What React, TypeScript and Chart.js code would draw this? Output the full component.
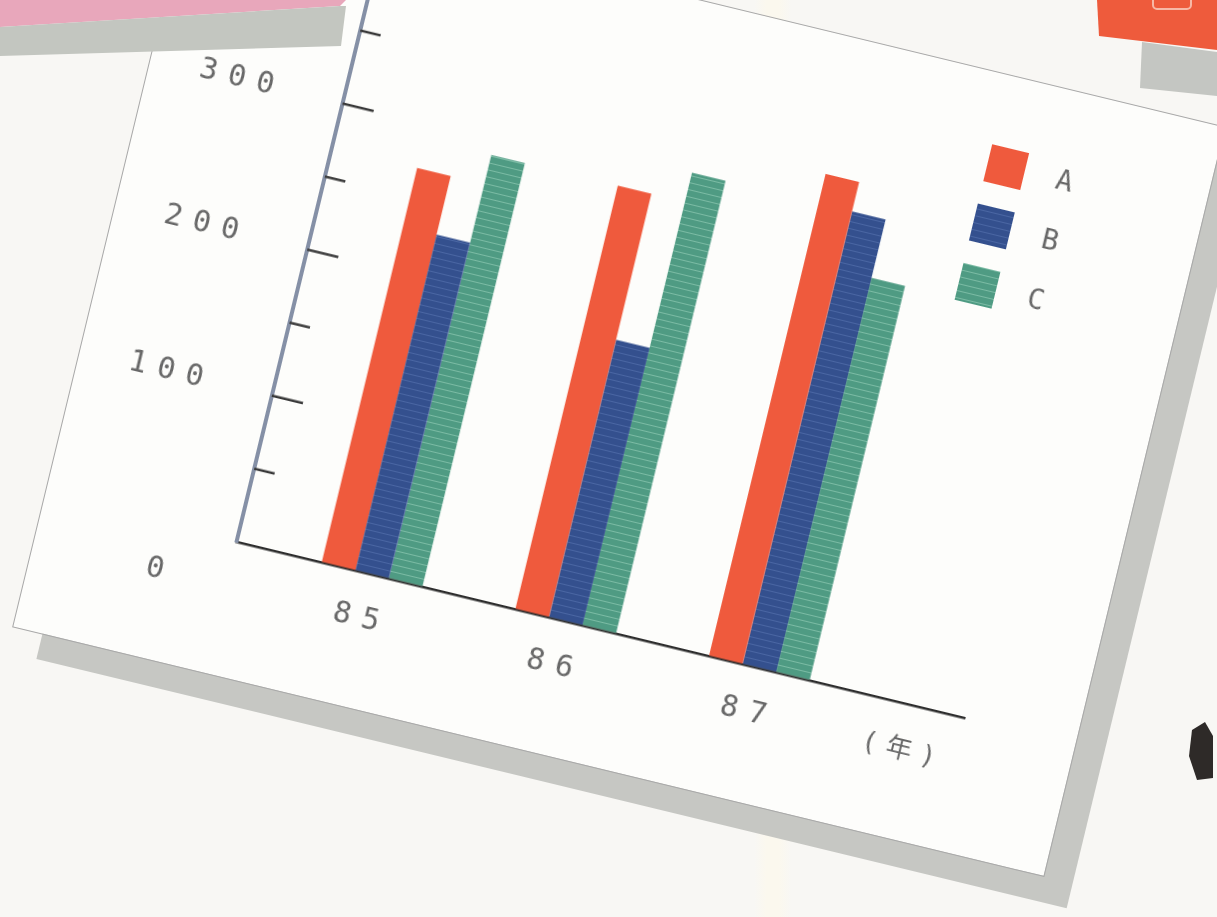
import React, { useEffect, useRef } from 'react';
import { Chart, registerables } from 'chart.js';

Chart.register(...registerables);

// ---- data ----
const categories = ['85', '86', '87'];
const seriesNames = ['A', 'B', 'C'];
const seriesA = [270, 290, 330];
const seriesB = [230, 190, 310];
const seriesC = [290, 310, 270];
const yTickLabels = ['0', '100', '200', '300'];
const yLabelStep = 100;
const yMinorStep = 50;
const yTop = 350;
const yMax = 370;
const xUnitLabel = '(年)';

const RED = '#ef5a3d';
const BLUE = '#34508e';
const GREEN = '#4f9b83';

const TEXT = '#686868';
const MONO = "'DejaVu Sans Mono', 'Liberation Mono', monospace";

function makeStripe(ctx: CanvasRenderingContext2D, base: string, line: string, period: number) {
  const c = document.createElement('canvas');
  c.width = 8;
  c.height = period;
  const g = c.getContext('2d')!;
  g.fillStyle = base;
  g.fillRect(0, 0, 8, period);
  g.fillStyle = line;
  g.fillRect(0, period - 2, 8, 1);
  return ctx.createPattern(c, 'repeat') || base;
}

const spacingPlugin = {
  id: 'spacing',
  beforeDraw(chart: any) {
    (chart.ctx as any).letterSpacing = '11px';
  },
  afterDraw(chart: any) {
    (chart.ctx as any).letterSpacing = '0px';
  },
};

const inwardTicks = {
  id: 'inwardTicks',
  afterDraw(chart: any) {
    const ys = chart.scales.y;
    const ctx = chart.ctx;
    const x0 = chart.chartArea.left;
    ctx.save();
    ctx.strokeStyle = '#3a3a3a';
    ctx.lineWidth = 2.5;
    for (let v = yMinorStep; v <= yTop; v += yMinorStep) {
      const y = ys.getPixelForValue(v);
      const len = v % yLabelStep === 0 ? 32 : 21;
      ctx.beginPath();
      ctx.moveTo(x0, y);
      ctx.lineTo(x0 + len, y);
      ctx.stroke();
    }
    // the zero label sits below the baseline in the original print
    (ctx as any).letterSpacing = '0px';
    ctx.fillStyle = TEXT;
    ctx.font = `30px ${MONO}`;
    ctx.textAlign = 'center';
    ctx.textBaseline = 'middle';
    ctx.fillText(yTickLabels[0], 124, ys.getPixelForValue(0) + 46);
    ctx.restore();
  },
};

const boxLegend = {
  id: 'boxLegend',
  afterDraw(chart: any) {
    const ctx = chart.ctx;
    const { right, top, bottom } = chart.chartArea;
    ctx.save();
    (ctx as any).letterSpacing = '0px';
    chart.data.datasets.forEach((ds: any, i: number) => {
      const cy = top + 11 + i * 61;
      ctx.fillStyle = ds.backgroundColor;
      ctx.fillRect(right - 108, cy - 19, 38, 38);
      ctx.fillStyle = TEXT;
      ctx.font = `28px ${MONO}`;
      ctx.textAlign = 'center';
      ctx.textBaseline = 'middle';
      ctx.fillText(ds.label, right - 29, cy + 2);
    });
    (ctx as any).letterSpacing = '9px';
    ctx.font = `26px ${MONO}, 'Noto Sans CJK JP'`;
    ctx.fillStyle = TEXT;
    ctx.textAlign = 'center';
    ctx.textBaseline = 'middle';
    ctx.fillText(xUnitLabel, right - 52, bottom + 47);
    ctx.restore();
  },
};

function ChartBox() {
  const ref = useRef<HTMLCanvasElement | null>(null);
  useEffect(() => {
    const canvas = ref.current!;
    const ctx = canvas.getContext('2d')!;
    const fills = [
      RED,
      makeStripe(ctx, BLUE, '#4a66a3', 7),
      makeStripe(ctx, GREEN, '#7bbba4', 7),
    ];
    const series = [seriesA, seriesB, seriesC];
    const chart = new Chart(canvas, {
      type: 'bar',
      data: {
        datasets: series.map((s, i) => ({
          label: seriesNames[i],
          data: s.map((v, j) => ({ x: j, y: v })),
          backgroundColor: fills[i] as any,
          borderWidth: 0,
          categoryPercentage: 0.52,
          barPercentage: 1.0,
        })),
      },
      options: {
        responsive: false,
        animation: false,
        devicePixelRatio: 1,
        layout: { padding: { top: 59, right: 114, left: 50, bottom: 0 } },
        plugins: { legend: { display: false }, tooltip: { enabled: false } },
        scales: {
          x: {
            type: 'linear',
            min: -0.7,
            max: 3.06,
            offset: false,
            afterBuildTicks: (scale: any) => {
              scale.ticks = categories.map((_, i) => ({ value: i }));
            },
            afterFit: (scale: any) => {
              scale.height = 135;
            },
            grid: { display: true, drawOnChartArea: false, drawTicks: false },
            border: { display: true, color: '#2e2e2e', width: 2.5 },
            ticks: {
              padding: 28,
              color: TEXT,
              font: { family: MONO, size: 30 },
              maxRotation: 0,
              callback: (v: any) => categories[v] ?? '',
            },
          },
          y: {
            type: 'linear',
            min: 0,
            max: yMax,
            afterBuildTicks: (scale: any) => {
              scale.ticks = yTickLabels.map((_, i) => ({ value: i * yLabelStep }));
            },
            afterFit: (scale: any) => {
              scale.width = 147;
            },
            grid: { display: true, drawOnChartArea: false, drawTicks: false },
            border: { display: true, color: '#8590a6', width: 4 },
            ticks: {
              padding: 8,
              crossAlign: 'far',
              color: TEXT,
              font: { family: MONO, size: 30 },
              callback: (v: any) => (v === 0 ? '' : yTickLabels[Math.round(v / yLabelStep)] ?? ''),
            },
          },
        },
      },
      plugins: [spacingPlugin, inwardTicks, boxLegend],
    } as any);
    return () => chart.destroy();
  }, []);
  return <canvas ref={ref} width={1060} height={750} style={{ display: 'block', marginTop: 20 }} />;
}

const full: React.CSSProperties = { position: 'absolute', left: 0, top: 0, width: 1217, height: 917 };

export default function App() {
  return (
    <div style={{ position: 'fixed', left: 0, top: 0, width: 1217, height: 917, overflow: 'hidden', background: '#f8f7f4' }}>
      <div style={{ ...full, background: 'linear-gradient(90deg, rgba(0,0,0,0) 62%, #fbf8ee 63%, #fbf8ee 64%, rgba(0,0,0,0) 65%)' }} />
      <div
        style={{
          position: 'absolute',
          left: 89,
          top: -8,
          width: 1060,
          height: 770,
          transform: 'rotate(13.6deg)',
          background: '#fdfdfb',
          boxShadow: '30px 26px 0 #c6c7c3',
          outline: '1px solid #a8a8a8',
        }}
      >
        <ChartBox />
      </div>
      {/* top-left pink card and its gray edge */}
      <div style={{ ...full, background: '#e8a7bb', clipPath: 'polygon(0px 0px, 346px 0px, 340px 6px, 0px 27px)' }} />
      <div style={{ ...full, background: '#c3c6c0', clipPath: 'polygon(0px 27px, 340px 6px, 346px 6px, 341px 46px, 0px 56px)' }} />
      {/* top-right orange card and gray block */}
      <div style={{ ...full, background: '#ee5b3c', clipPath: 'polygon(1097px 0px, 1217px 0px, 1217px 50px, 1099px 36px)' }} />
      <div style={{ position: 'absolute', left: 1152, top: -8, width: 36, height: 14, border: '2px solid #f7b8a6', borderRadius: 5 }} />
      <div style={{ ...full, background: '#c4c6c2', clipPath: 'polygon(1142px 42px, 1217px 52px, 1217px 96px, 1140px 88px)' }} />
      {/* dark object at right edge */}
      <div style={{ ...full, background: '#2e2a28', clipPath: 'polygon(1192px 730px, 1205px 722px, 1213px 736px, 1213px 778px, 1197px 780px, 1189px 756px)' }} />
    </div>
  );
}
